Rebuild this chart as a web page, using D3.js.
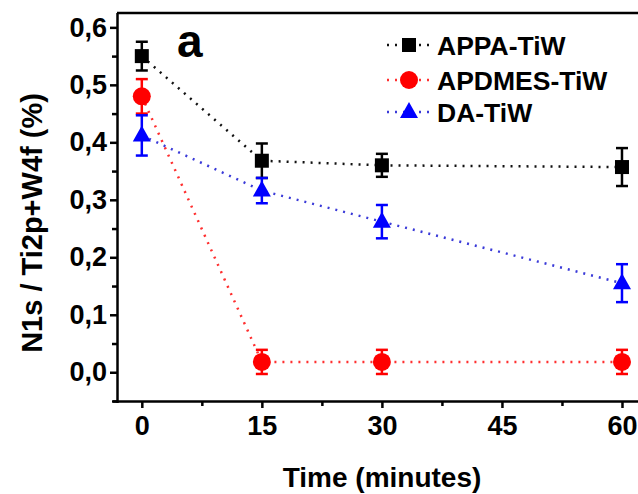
<!DOCTYPE html>
<html>
<head>
<meta charset="utf-8">
<script src="https://cdn.jsdelivr.net/npm/d3@7"></script>
<style>
  body { margin: 0; background: #fff; }
  text { font-family: "Liberation Sans", Arial, sans-serif; font-weight: bold; }
</style>
</head>
<body>
<div id="chart"></div>
<script>
// Data
var times = [0, 15, 30, 60];
var seriesNames = ['APPA-TiW', 'APDMES-TiW', 'DA-TiW'];
var appaValues = [0.55, 0.368, 0.36, 0.357];
var appaErrors = [0.025, 0.03, 0.02, 0.033];
var apdmesValues = [0.48, 0.018, 0.018, 0.018];
var apdmesErrors = [0.03, 0.021, 0.021, 0.021];
var daValues = [0.412, 0.316, 0.262, 0.155];
var daErrors = [0.035, 0.022, 0.029, 0.033];
var xTicks = [0, 15, 30, 45, 60];
var yTicks = [0, 0.1, 0.2, 0.3, 0.4, 0.5, 0.6];

var width = 638, height = 494;

var svg = d3.select('#chart').append('svg')
    .attr('width', width)
    .attr('height', height);

// scales - the plot frame runs past the right edge (figure is cropped)
var x = d3.scaleLinear().domain([-3.1, 65]).range([117, 662]);
var y = d3.scaleLinear().domain([-0.05, 0.625]).range([401, 13]);

var colors = ['#000000', '#ff0000', '#0000ff'];
var lineColors = ['#111111', '#ff3030', '#3a3ad8'];
var shapes = ['square', 'circle', 'triangle'];

var series = [appaValues, apdmesValues, daValues].map(function(vals, i) {
  var errs = [appaErrors, apdmesErrors, daErrors][i];
  return {
    name: seriesNames[i],
    color: colors[i],
    lineColor: lineColors[i],
    shape: shapes[i],
    points: times.map(function(t, j) { return {t: t, v: vals[j], e: errs[j]}; })
  };
});

function drawMarker(g, shape, color) {
  if (shape == 'square') {
    g.append('rect').attr('x', -7).attr('y', -7).attr('width', 14).attr('height', 14)
      .attr('fill', color);
  } else if (shape == 'circle') {
    g.append('circle').attr('r', 9).attr('fill', color);
  } else {
    g.append('path').attr('d', 'M0,-10L9,6L-9,6Z').attr('fill', color);
  }
}

// frame (top line)
svg.append('line')
    .attr('x1', 117).attr('x2', width)
    .attr('y1', 13).attr('y2', 13)
    .attr('stroke', '#000').attr('stroke-width', 2.5);

// minor ticks
svg.append('g')
    .attr('transform', 'translate(0,401)')
    .call(d3.axisBottom(x).tickValues([7.5, 22.5, 37.5, 52.5]).tickSize(5).tickFormat(''))
    .call(function(g) { g.select('.domain').remove(); })
    .selectAll('line').attr('stroke-width', 2.5);

svg.append('g')
    .attr('transform', 'translate(117,0)')
    .call(d3.axisLeft(y).tickValues([-0.05, 0.05, 0.15, 0.25, 0.35, 0.45, 0.55]).tickSize(5).tickFormat(''))
    .call(function(g) { g.select('.domain').remove(); })
    .selectAll('line').attr('stroke-width', 2.5);

// x axis
var xAxis = svg.append('g')
    .attr('transform', 'translate(0,401)')
    .call(d3.axisBottom(x).tickValues(xTicks).tickSize(7).tickPadding(8).tickFormat(d3.format('d')));
xAxis.select('.domain').attr('d', 'M113,0.5H' + width).attr('stroke-width', 2.5);
xAxis.selectAll('line').attr('stroke-width', 2.5);
xAxis.selectAll('text').attr('font-size', 27).attr('fill', '#000');

// y axis
var yAxis = svg.append('g')
    .attr('transform', 'translate(117,0)')
    .call(d3.axisLeft(y).tickValues(yTicks).tickSize(7).tickPadding(3)
      .tickFormat(function(d) { return d3.format('.1f')(d).replace('.', ','); }));
yAxis.select('.domain').attr('d', 'M0.5,13V403').attr('stroke-width', 2.5);
yAxis.selectAll('line').attr('stroke-width', 2.5);
yAxis.selectAll('text').attr('font-size', 27).attr('fill', '#000');

// axis titles
svg.append('text')
    .attr('x', 382).attr('y', 487)
    .attr('text-anchor', 'middle')
    .attr('font-size', 28)
    .text('Time (minutes)');

svg.append('text')
    .attr('transform', 'translate(42,223) rotate(-90)')
    .attr('text-anchor', 'middle')
    .attr('font-size', 29)
    .text('N1s / Ti2p+W4f (%)');

// panel letter
svg.append('text')
    .attr('x', 177).attr('y', 57)
    .attr('font-size', 46)
    .text('a');

// dotted connecting lines
var line = d3.line()
    .x(function(d) { return x(d.t); })
    .y(function(d) { return y(d.v); });

series.forEach(function(s) {
  svg.append('path')
      .datum(s.points)
      .attr('fill', 'none')
      .attr('stroke', s.lineColor)
      .attr('stroke-width', 2.5)
      .attr('stroke-dasharray', '2,6')
      .attr('d', line);
});

// error bars and markers
series.forEach(function(s) {
  var g = svg.append('g');
  s.points.forEach(function(d) {
    var cx = x(d.t), top = y(d.v + d.e), bot = y(d.v - d.e);
    g.append('line').attr('x1', cx).attr('x2', cx).attr('y1', top).attr('y2', bot)
      .attr('stroke', s.color).attr('stroke-width', 2.5);
    [top, bot].forEach(function(yy) {
      g.append('line').attr('x1', cx - 6).attr('x2', cx + 6).attr('y1', yy).attr('y2', yy)
        .attr('stroke', s.color).attr('stroke-width', 2.5);
    });
    var m = g.append('g').attr('transform', 'translate(' + cx + ',' + y(d.v) + ')');
    drawMarker(m, s.shape, s.color);
  });
});

// legend
var legend = svg.selectAll('.legend')
    .data(series)
    .enter().append('g')
    .attr('class', 'legend')
    .attr('transform', function(d, i) { return 'translate(0,' + [45, 80, 112][i] + ')'; });

legend.append('line')
    .attr('x1', 387).attr('x2', 431)
    .attr('y1', 0).attr('y2', 0)
    .attr('stroke', function(d) { return d.lineColor; })
    .attr('stroke-width', 2.5)
    .attr('stroke-dasharray', '2,6');

legend.each(function(d) {
  var m = d3.select(this).append('g').attr('transform', 'translate(409,0)');
  drawMarker(m, d.shape, d.color);
});

legend.append('text')
    .attr('x', 437).attr('y', 0)
    .attr('dy', '0.36em')
    .attr('font-size', 26.5)
    .text(function(d) { return d.name; });
</script>
</body>
</html>
